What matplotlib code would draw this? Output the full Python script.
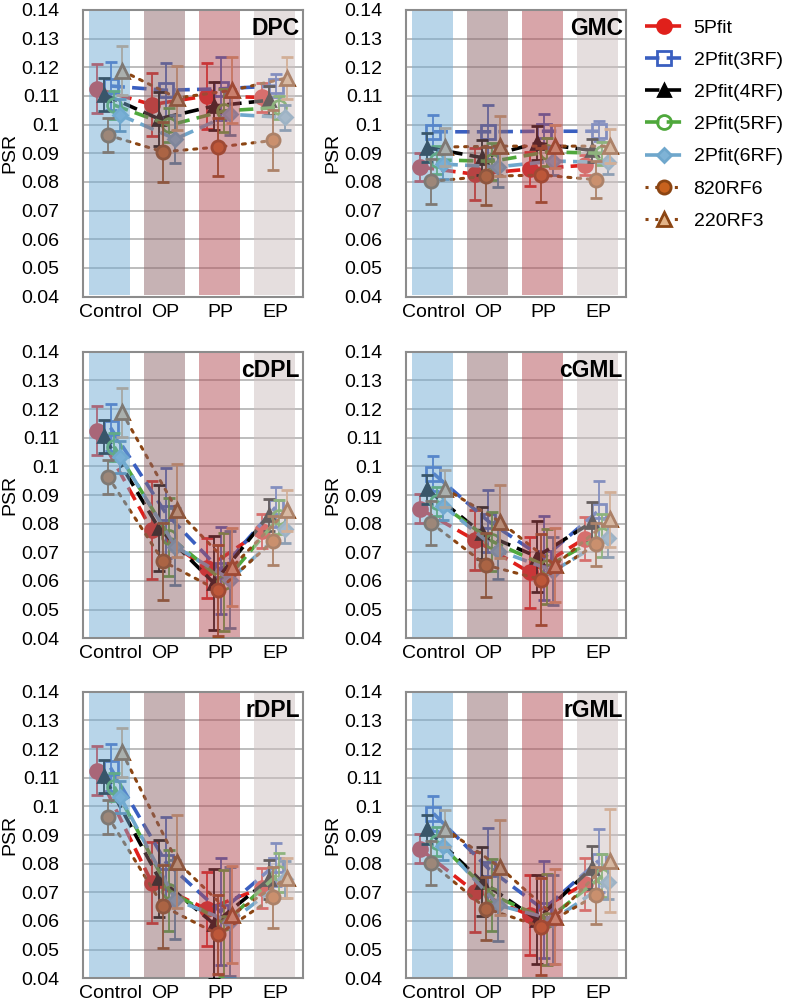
import matplotlib
matplotlib.use('Agg')
import matplotlib.pyplot as plt
from matplotlib.lines import Line2D
from matplotlib.ticker import FuncFormatter, MultipleLocator

plt.rcParams['font.family'] = ['Liberation Sans', 'DejaVu Sans']

PHASES = ['Control', 'OP', 'PP', 'EP']
SERIES = ['5Pfit', '2Pfit(3RF)', '2Pfit(4RF)', '2Pfit(5RF)', '2Pfit(6RF)', '820RF6', '220RF3']
PANELS = ['DPC', 'GMC', 'cDPL', 'cGML', 'rDPL', 'rGML']

# rows follow SERIES, columns follow PHASES
DPC_MEAN = [
  [0.1125, 0.1070, 0.1100, 0.1095],
  [0.1135, 0.1120, 0.1125, 0.1135],
  [0.1105, 0.1020, 0.1065, 0.1085],
  [0.1068, 0.0998, 0.1048, 0.1060],
  [0.1033, 0.0950, 0.1036, 0.1025],
  [0.0963, 0.0905, 0.0922, 0.0945],
  [0.1188, 0.1093, 0.1120, 0.1163],
]
DPC_ERR = [
  [0.0085, 0.0110, 0.0115, 0.0050],
  [0.0083, 0.0095, 0.0110, 0.0040],
  [0.0058, 0.0095, 0.0085, 0.0050],
  [0.0050, 0.0060, 0.0075, 0.0040],
  [0.0055, 0.0085, 0.0073, 0.0045],
  [0.0060, 0.0105, 0.0102, 0.0105],
  [0.0085, 0.0110, 0.0115, 0.0072],
]
GMC_MEAN = [
  [0.0852, 0.0827, 0.0845, 0.0858],
  [0.0975, 0.0975, 0.0977, 0.0977],
  [0.0920, 0.0885, 0.0935, 0.0910],
  [0.0877, 0.0872, 0.0905, 0.0900],
  [0.0862, 0.0853, 0.0873, 0.0868],
  [0.0802, 0.0820, 0.0824, 0.0808],
  [0.0922, 0.0925, 0.0925, 0.0925],
]
GMC_ERR = [
  [0.0050, 0.0090, 0.0060, 0.0035],
  [0.0060, 0.0095, 0.0060, 0.0035],
  [0.0050, 0.0060, 0.0060, 0.0040],
  [0.0050, 0.0065, 0.0050, 0.0040],
  [0.0050, 0.0070, 0.0050, 0.0040],
  [0.0078, 0.0102, 0.0095, 0.0065],
  [0.0065, 0.0105, 0.0075, 0.0060],
]
CDPL_MEAN = [
  [0.1125, 0.0778, 0.0645, 0.0775],
  [0.1135, 0.0838, 0.0637, 0.0857],
  [0.1105, 0.0784, 0.0593, 0.0830],
  [0.1068, 0.0754, 0.0597, 0.0823],
  [0.1033, 0.0720, 0.0605, 0.0782],
  [0.0963, 0.0668, 0.0567, 0.0740],
  [0.1188, 0.0846, 0.0648, 0.0846],
]
CDPL_ERR = [
  [0.0085, 0.0170, 0.0104, 0.0060],
  [0.0083, 0.0157, 0.0152, 0.0070],
  [0.0058, 0.0150, 0.0163, 0.0055],
  [0.0050, 0.0137, 0.0170, 0.0060],
  [0.0055, 0.0135, 0.0168, 0.0050],
  [0.0060, 0.0134, 0.0158, 0.0085],
  [0.0085, 0.0163, 0.0136, 0.0070],
]
CGML_MEAN = [
  [0.0852, 0.0743, 0.0630, 0.0748],
  [0.0975, 0.0808, 0.0680, 0.0845],
  [0.0920, 0.0767, 0.0685, 0.0805],
  [0.0877, 0.0738, 0.0650, 0.0760],
  [0.0862, 0.0706, 0.0635, 0.0750],
  [0.0802, 0.0655, 0.0605, 0.0728],
  [0.0922, 0.0807, 0.0655, 0.0815],
]
CGML_ERR = [
  [0.0050, 0.0105, 0.0125, 0.0075],
  [0.0060, 0.0108, 0.0145, 0.0105],
  [0.0050, 0.0090, 0.0125, 0.0070],
  [0.0050, 0.0102, 0.0130, 0.0075],
  [0.0050, 0.0100, 0.0120, 0.0065],
  [0.0078, 0.0112, 0.0160, 0.0075],
  [0.0065, 0.0128, 0.0130, 0.0095],
]
RDPL_MEAN = [
  [0.1125, 0.0734, 0.0641, 0.0715],
  [0.1135, 0.0807, 0.0632, 0.0797],
  [0.1105, 0.0749, 0.0590, 0.0745],
  [0.1068, 0.0706, 0.0592, 0.0768],
  [0.1033, 0.0674, 0.0597, 0.0745],
  [0.0963, 0.0651, 0.0553, 0.0682],
  [0.1188, 0.0807, 0.0622, 0.0751],
]
RDPL_ERR = [
  [0.0085, 0.0140, 0.0130, 0.0070],
  [0.0083, 0.0155, 0.0187, 0.0075],
  [0.0058, 0.0135, 0.0193, 0.0068],
  [0.0050, 0.0142, 0.0185, 0.0068],
  [0.0055, 0.0138, 0.0190, 0.0065],
  [0.0060, 0.0145, 0.0138, 0.0105],
  [0.0085, 0.0162, 0.0170, 0.0070],
]
RGML_MEAN = [
  [0.0852, 0.0702, 0.0620, 0.0730],
  [0.0975, 0.0783, 0.0640, 0.0810],
  [0.0920, 0.0737, 0.0605, 0.0785],
  [0.0877, 0.0690, 0.0605, 0.0757],
  [0.0862, 0.0655, 0.0605, 0.0735],
  [0.0802, 0.0643, 0.0580, 0.0690],
  [0.0922, 0.0787, 0.0615, 0.0810],
]
RGML_ERR = [
  [0.0050, 0.0140, 0.0140, 0.0090],
  [0.0060, 0.0140, 0.0170, 0.0110],
  [0.0050, 0.0120, 0.0155, 0.0075],
  [0.0050, 0.0125, 0.0160, 0.0075],
  [0.0050, 0.0125, 0.0155, 0.0060],
  [0.0078, 0.0110, 0.0170, 0.0100],
  [0.0065, 0.0165, 0.0165, 0.0180],
]

PANEL_DATA = {
  'DPC': (DPC_MEAN, DPC_ERR),
  'GMC': (GMC_MEAN, GMC_ERR),
  'cDPL': (CDPL_MEAN, CDPL_ERR),
  'cGML': (CGML_MEAN, CGML_ERR),
  'rDPL': (RDPL_MEAN, RDPL_ERR),
  'rGML': (RGML_MEAN, RGML_ERR),
}

# look of each series (same order as SERIES)
STYLES = [
  dict(color='#e0201b', ecolor='#e0201b', marker='o', mfc='#e0201b', mec='#e0201b', ms=10, ls=(0, (4, 2)), lw=2.6, dx=-0.25),
  dict(color='#3a5fc0', ecolor='#3a5fc0', marker='s', mfc='none', mec='#3a5fc0', ms=10, ls=(0, (4, 2)), lw=2.6, dx=0.0),
  dict(color='black', ecolor='black', marker='^', mfc='black', mec='black', ms=9, ls=(0, (4, 2)), lw=2.6, dx=-0.12),
  dict(color='#4fa83c', ecolor='#4fa83c', marker='o', mfc='none', mec='#4fa83c', ms=10, ls=(0, (4, 2)), lw=2.6, dx=0.07),
  dict(color='#6fa7cc', ecolor='#4f7fa8', marker='D', mfc='#7fb3d6', mec='#6fa7cc', ms=7.5, ls=(0, (4, 2)), lw=2.6, dx=0.18),
  dict(color='#8b4513', ecolor='#8b4513', marker='o', mfc='#c8621e', mec='#8b4513', ms=9.5, ls=(0, (1, 2.2)), lw=2.2, dx=-0.04),
  dict(color='#8b4513', ecolor='#d9a070', marker='^', mfc='#e3b488', mec='#8b4513', ms=10, ls=(0, (1, 2.2)), lw=2.2, dx=0.21),
]

# overlay bands (drawn translucent on top of the series)
BAND_COLORS = ['#73add5', '#8f676b', '#b34d55', '#cdbfbf']

W, H = 790, 1008
COL_LEFT = [83, 406]
ROW_TOP = [10, 351.7, 691.7]
AX_W, AX_H = 220, 286.6


def draw_panel(ax, name, mean, err):
  for i, (vals, errs) in enumerate(zip(mean, err)):
    st = STYLES[i]
    xs = [k + st['dx'] for k in range(len(PHASES))]
    ax.errorbar(xs, vals, yerr=errs, color=st['color'], ecolor=st['ecolor'],
                marker=st['marker'], mfc=st['mfc'], mec=st['mec'], ms=st['ms'],
                mew=2, ls=st['ls'], lw=st['lw'], elinewidth=1.3, capsize=4,
                capthick=1.3, zorder=3 + i * 0.1,
                dash_capstyle='round' if i >= 5 else 'butt')
  for k, c in enumerate(BAND_COLORS):
    ax.axvspan(k - 0.39, k + 0.36, ymin=0.005, ymax=0.995, color=c, alpha=0.5, lw=0, zorder=5)

  ax.set_xlim(-0.5, 3.5)
  ax.set_ylim(0.04, 0.14)
  ax.yaxis.set_major_locator(MultipleLocator(0.01))
  ax.yaxis.set_major_formatter(FuncFormatter(lambda v, p: f'{round(v, 2):g}'))
  ax.set_xticks(range(len(PHASES)), PHASES)
  ax.tick_params(length=0, labelsize=14)
  ax.tick_params(axis='y', pad=17)
  ax.tick_params(axis='x', pad=5)
  ax.grid(axis='y', color='#bdbdbd', lw=1.4, zorder=1)
  ax.set_axisbelow(True)
  for sp in ax.spines.values():
    sp.set_color('#8c8c8c')
    sp.set_linewidth(1.5)
  ax.set_ylabel('PSR', fontsize=14, labelpad=2)
  ax.text(0.985, 0.975, name, transform=ax.transAxes, ha='right', va='top',
          fontsize=16.5, weight='bold', zorder=10)


fig = plt.figure(figsize=(W / 100, H / 100), dpi=100)
axes = []
for idx, name in enumerate(PANELS):
  r, c = divmod(idx, 2)
  left = COL_LEFT[c] / W
  bottom = 1 - (ROW_TOP[r] + AX_H) / H
  ax = fig.add_axes([left, bottom, AX_W / W, AX_H / H])
  mean, err = PANEL_DATA[name]
  draw_panel(ax, name, mean, err)
  axes.append(ax)

handles = [
  Line2D([], [], color=st['color'], ls=st['ls'], lw=st['lw'], marker=st['marker'],
         mfc=st['mfc'], mec=st['mec'], ms=st['ms'], mew=2)
  for st in STYLES
]
fig.legend(handles, SERIES, loc='upper left', bbox_to_anchor=(645 / W, 1 - 19 / H),
           frameon=False, fontsize=14, handlelength=2.0, handletextpad=0.5,
           labelspacing=0.75, borderpad=0, borderaxespad=0)

fig.savefig('out.png', dpi=100)
